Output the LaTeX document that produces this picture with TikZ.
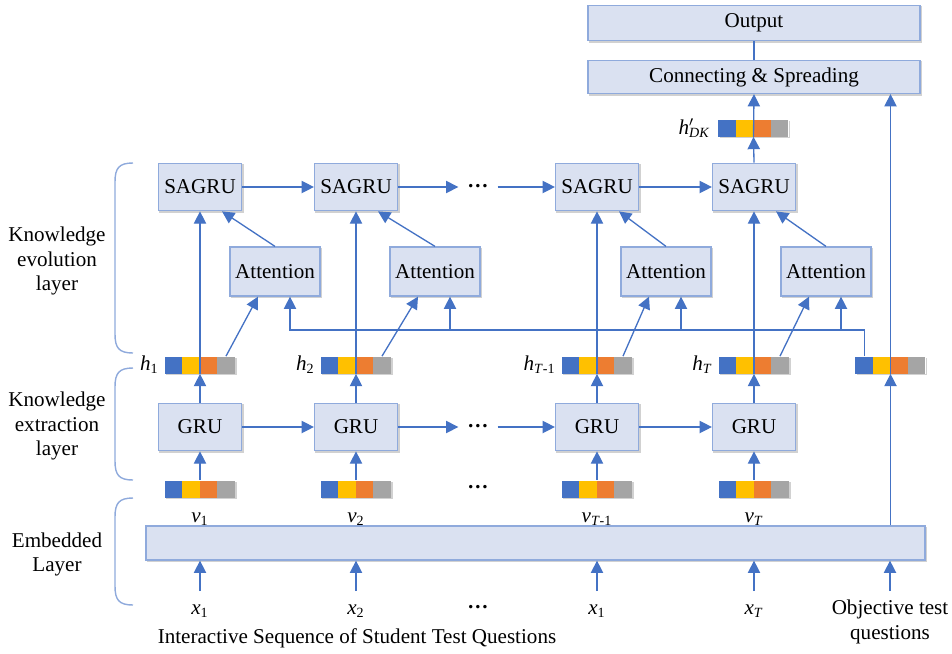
\documentclass[tikz,border=0pt]{standalone}
\usepackage{fontspec}
\setmainfont{Liberation Serif}
\usetikzlibrary{arrows.meta,backgrounds,positioning}
\definecolor{boxfill}{HTML}{DAE1F1}
\definecolor{boxline}{HTML}{8FAADC}
\definecolor{arrblue}{HTML}{4472C4}
\definecolor{cblue}{HTML}{4472C4}
\definecolor{cyellow}{HTML}{FFC000}
\definecolor{corange}{HTML}{ED7D31}
\definecolor{cgray}{HTML}{A5A5A5}
\newcommand\kvec[3]{%
	\node[kvec] (#1) at (#2,#3) {};
	\foreach \cc [count=\i from 0] in {cblue,cyellow,corange,cgray}
		\fill[\cc] ([xshift=\i*0.35cm]#1.south west) rectangle ++(0.35cm,0.34cm);
}
\begin{document}
\begin{tikzpicture}[x=0.02cm,y=-0.02cm,
	every node/.style={font=\rmfamily\fontsize{12}{14}\selectfont},
	box/.style={draw=boxline,fill=boxfill,line width=0.7pt,inner sep=0pt},
	unit/.style={box,minimum width=1.66cm,minimum height=0.95cm},
	attbox/.style={box,minimum width=1.8cm,minimum height=0.98cm},
	kvec/.style={minimum width=1.4cm,minimum height=0.34cm,inner sep=0pt,fill=white},
	boxshadow/.style={fill=black!18},
	arr/.style={draw=arrblue,line width=0.75pt,-{Triangle[length=7pt,width=7pt]}},
	link/.style={draw=arrblue,line width=0.75pt},
	brace/.style={draw=boxline,line width=0.8pt},
	dotsnode/.style={inner xsep=5pt,inner ysep=0pt,text height=0.1em,text depth=0pt},
	layerlab/.style={align=center,font=\rmfamily\fontsize{12}{13.7}\selectfont},
	]
	\useasboundingbox (0,0) rectangle (952,653);
	\node[box,minimum width=6.64cm,minimum height=0.7cm] (out) at (754,23) {Output};
	\node[box,minimum width=6.64cm,minimum height=0.66cm] (conn) at (754,77) {Connecting \& Spreading};
	\kvec{hdk}{753.5}{128}
	\node[left=1pt of hdk] (lhdk) {\textit{h}\rlap{$^{\prime}$}\textsubscript{\textit{DK}}};
	\foreach \n/\x in {1/200,2/356,3/597,4/754}
		\node[unit] (sagru\n) at (\x,187) {SAGRU};
	\foreach \n/\x in {1/275,2/435,3/666,4/826}
		\node[attbox] (att\n) at (\x,271.5) {Attention};
	\kvec{h1}{200}{365}
	\kvec{h2}{356}{365}
	\kvec{h3}{597}{365}
	\kvec{h4}{754}{365}
	\kvec{hq}{890.5}{365}
	\node[left=0pt of h1] (lh1) {\textit{h}\textsubscript{1}};
	\node[left=0pt of h2] (lh2) {\textit{h}\textsubscript{2}};
	\node[left=0pt of h3] (lh3) {\textit{h}\textsubscript{\textit{T}-1}};
	\node[left=0pt of h4] (lh4) {\textit{h}\textsubscript{\textit{T}}};
	\foreach \n/\x in {1/200,2/356,3/597,4/754}
		\node[unit] (gru\n) at (\x,427) {GRU};
	\kvec{v1}{200}{489}
	\kvec{v2}{356}{489}
	\kvec{v3}{597}{489}
	\kvec{v4}{754}{489}
	\node[anchor=base] (lv1) at (200,522) {\textit{v}\textsubscript{1}};
	\node[anchor=base] (lv2) at (356,522) {\textit{v}\textsubscript{2}};
	\node[anchor=base] (lv3) at (597,522) {\textit{v}\textsubscript{\textit{T}-1}};
	\node[anchor=base] (lv4) at (754,522) {\textit{v}\textsubscript{\textit{T}}};
	\node[box,minimum width=15.58cm,minimum height=0.68cm] (emb) at (535.5,543) {};
	\path
	(200,591) coordinate (in1)
	(356,591) coordinate (in2)
	(597,591) coordinate (in3)
	(754,591) coordinate (in4)
	(890,591) coordinate (in5)
	(0,330) coordinate (bus)
	;
	\node[anchor=base] (x1) at (200,614) {\textit{x}\textsubscript{1}};
	\node[anchor=base] (x2) at (356,614) {\textit{x}\textsubscript{2}};
	\node[anchor=base] (x3) at (597,614) {\textit{x}\textsubscript{1}};
	\node[anchor=base] (x4) at (754,614) {\textit{x}\textsubscript{\textit{T}}};
	\node[anchor=base,align=center] (xq) at (890,639) {Objective test\\questions};
	\node[anchor=base] (seq) at (357,643) {Interactive Sequence of Student Test Questions};
	\node[dotsnode] (dS) at (478,187) {\textbf{…}};
	\node[dotsnode] (dG) at (478,427) {\textbf{…}};
	\node[dotsnode] (dV) at (478,488) {\textbf{…}};
	\node[dotsnode] (dX) at (478,608) {\textbf{…}};
	\node[layerlab] (lev) at (57,261) {Knowledge\\evolution\\layer};
	\node[layerlab] (lex) at (57,426) {Knowledge\\extraction\\layer};
	\node[layerlab] (lem) at (57,554) {Embedded\\Layer};
	\begin{scope}[on background layer]
		\foreach \b in {out,conn,sagru1,sagru2,sagru3,sagru4,att1,att2,att3,att4,gru1,gru2,gru3,gru4,emb,hdk,h1,h2,h3,h4,hq,v1,v2,v3,v4}
			\fill[boxshadow] ([shift={(0.9pt,-0.9pt)}]\b.south west) rectangle ([shift={(0.9pt,-0.9pt)}]\b.north east);
	\end{scope}
	\draw[brace] (133,163) .. controls (119,163) and (115,168) .. (115,182) -- (115,334) .. controls (115,348) and (119,353) .. (133,353);
	\draw[brace] (133,368) .. controls (119,368) and (115,373) .. (115,387) -- (115,461) .. controls (115,475) and (119,480) .. (133,480);
	\draw[brace] (133,498) .. controls (119,498) and (115,503) .. (115,517) -- (115,586) .. controls (115,600) and (119,605) .. (133,605);
	\draw[link] (conn.north) -- (out.south);
	\draw[arr] (sagru4.north) -- (hdk.south);
	\draw[arr] (hdk.south) -- (conn.south);
	\draw[arr] (hq |- emb.north) -- (hq.south);
	\draw[arr] (hq.south) -- (hq |- conn.south);
	\draw[arr] (sagru1) -- (sagru2);
	\draw[arr] (sagru2) -- (dS);
	\draw[arr] (dS) -- (sagru3);
	\draw[arr] (sagru3) -- (sagru4);
	\draw[arr] (gru1) -- (gru2);
	\draw[arr] (gru2) -- (dG);
	\draw[arr] (dG) -- (gru3);
	\draw[arr] (gru3) -- (gru4);
	\foreach \n in {1,2,3,4} {
		\draw[arr] (gru\n.north) -- (h\n.south);
		\draw[arr] (h\n.south) -- (sagru\n.south);
		\draw[arr] (v\n.north) -- (gru\n.south);
		\draw[arr] ([xshift=0.52cm]h\n.north) -- ([xshift=-0.34cm]att\n.south);
		\draw[arr] (att\n.north) -- ([xshift=0.44cm]sagru\n.south);
		\coordinate (ab\n) at ([xshift=0.3cm]att\n.south);
	}
	\foreach \n in {1,2,3,4,5}
		\draw[arr] (in\n) -- (in\n |- emb.south);
	\draw[arr] ([xshift=-0.52cm]hq.north) |- (ab1 |- bus) -- (ab1);
	\foreach \n in {2,3,4}
		\draw[arr] (ab\n |- bus) -- (ab\n);
\end{tikzpicture}
\end{document}
